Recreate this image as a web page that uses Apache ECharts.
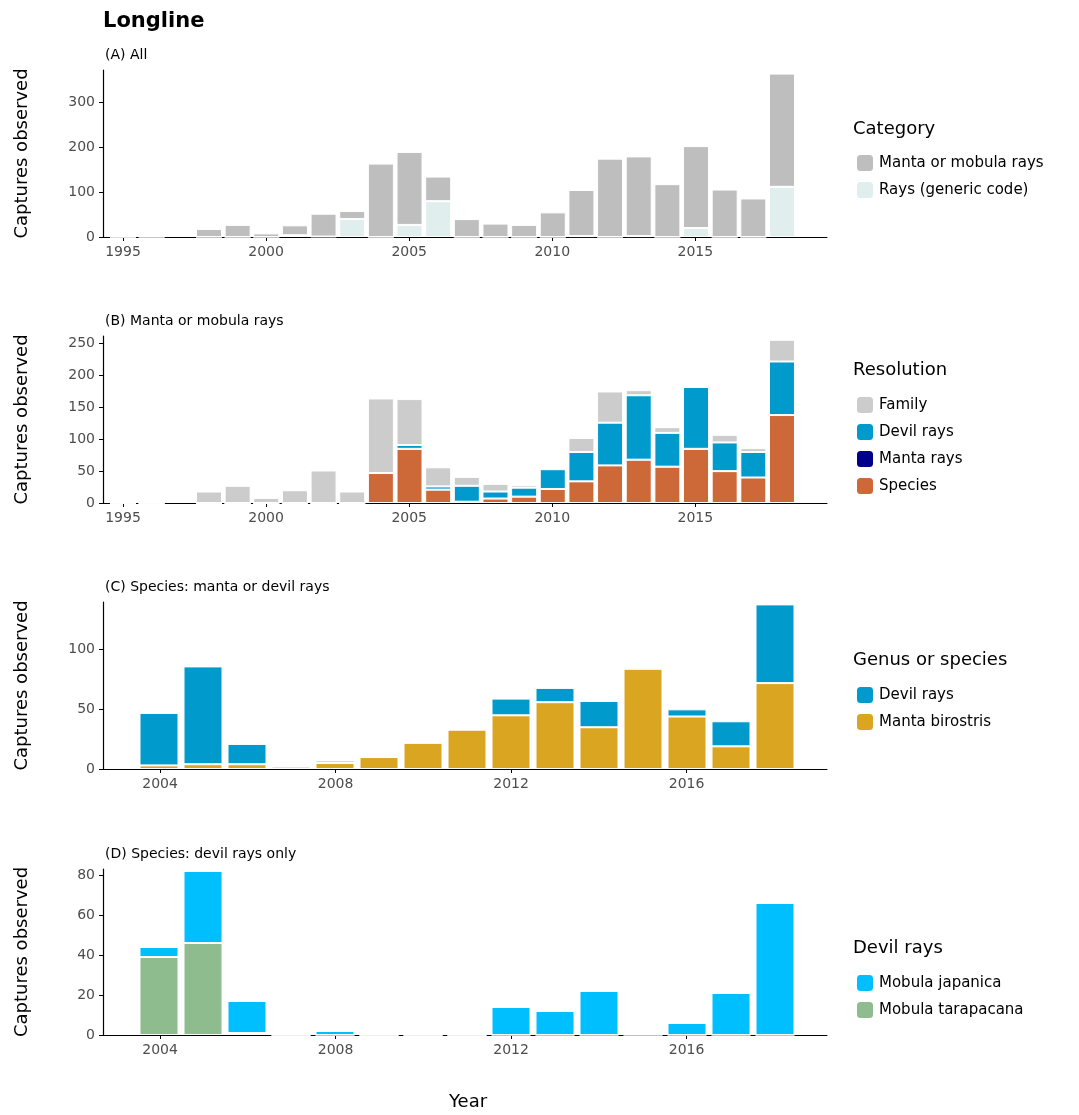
<html>
<head>
<meta charset="utf-8">
<script src="https://cdn.jsdelivr.net/npm/echarts@6/dist/echarts.min.js"></script>
</head>
<body style="margin:0">
<div id="chart" style="width:1079px;height:1115px;"></div>
<script type="text/javascript">
// panel A
var yearsA = [1995, 1996, 1998, 1999, 2000, 2001, 2002, 2003, 2004, 2005, 2006, 2007, 2008, 2009, 2010, 2011, 2012, 2013, 2014, 2015, 2016, 2017, 2018];
var mantaMobulaA = [1, 2, 18, 27, 8, 22, 51, 18, 164, 163, 55, 40, 30, 27, 55, 103, 175, 178, 118, 183, 106, 86, 253];
var raysGenericA = [0, 0, 0, 0, 0, 4, 1, 40, 0, 27, 80, 0, 0, 0, 0, 2, 0, 2, 0, 20, 0, 0, 112];
// panel B
var familyB = [1, 2, 18, 27, 8, 20, 51, 18, 117, 72, 30, 14, 12, 4, 2, 22, 49, 8, 9, 1, 12, 6, 34];
var devilB = [0, 0, 0, 0, 0, 0, 0, 0, 0, 6, 5, 25, 11, 14, 31, 46, 67, 101, 53, 97, 45, 40, 84];
var mantaB = [0, 0, 0, 0, 0, 0, 0, 0, 0, 0, 0, 0, 0, 0, 0, 0, 0, 0, 0, 0, 0, 0, 0];
var speciesB = [0, 0, 0, 0, 0, 0, 0, 0, 47, 85, 21, 2, 7, 10, 22, 34, 59, 68, 57, 85, 50, 40, 138];
// panel C
var yearsC = [2004, 2005, 2006, 2007, 2008, 2009, 2010, 2011, 2012, 2013, 2014, 2015, 2016, 2017, 2018];
var devilC = [44, 82, 17, 0, 2, 0, 0, 0, 14, 12, 22, 1, 6, 21, 66];
var birostrisC = [3, 4, 4, 2, 5, 10, 22, 33, 45, 56, 35, 84, 44, 19, 72];
// panel D
var japanicaD = [5, 36, 16, 0, 2, 0, 0, 0, 14, 12, 22, 1, 6, 21, 66];
var tarapacanaD = [39, 46, 1, 0, 0, 0, 0, 0, 0, 0, 0, 0, 0, 0, 0];
// tick labels
var ticksAB = [1995, 2000, 2005, 2010, 2015];
var ticksCD = [2004, 2008, 2012, 2016];

function span(a, b) {
    var out = [];
    for (var y = a; y <= b; y++) out.push(String(y));
    return out;
}
var catsAB = span(1995, 2018);
var catsCD = span(2004, 2018);

function pairs(xs, ys) {
    return xs.map(function (x, i) { return [String(x), ys[i]]; });
}

var tops = [70, 336, 602, 869];
var hts = [167, 167, 167, 166];
var grids = [];
// visible axis frames
tops.forEach(function (t, i) { grids.push({left: 103, right: 252, top: t, height: hts[i]}); });
// bar grids aligned so category centers sit on the years
tops.forEach(function (t, i) {
    grids.push(i < 2 ? {left: 108.7, right: 282.7, top: t, height: hts[i]}
                     : {left: 137, right: 282, top: t, height: hts[i]});
});

var lbl = {color: '#4d4d4d', fontSize: 14, fontFamily: 'DejaVu Sans'};
var axLine = {show: true, lineStyle: {color: '#000', width: 1.2}};
var ymax = [373, 262, 140, 83];
var yint = [100, 50, 50, 20];

var xAxes = [], yAxes = [];
[[1994.3, 2019.6, ticksAB], [1994.3, 2019.6, ticksAB], [2002.7, 2019.2, ticksCD], [2002.7, 2019.2, ticksCD]]
    .forEach(function (r, i) {
        xAxes.push({type: 'value', gridIndex: i, min: r[0], max: r[1],
            axisLine: axLine,
            axisTick: {show: true, length: 4, customValues: r[2], lineStyle: {color: '#000'}},
            splitLine: {show: false},
            axisLabel: Object.assign({customValues: r[2], formatter: function (v) { return String(v); }}, lbl)});
        yAxes.push({type: 'value', gridIndex: i, min: 0, max: ymax[i], interval: yint[i],
            name: 'Captures observed', nameLocation: 'middle', nameGap: 72, nameRotate: 90,
            nameTextStyle: {fontSize: 18, color: '#000', fontFamily: 'DejaVu Sans'},
            axisLine: axLine, axisTick: {show: true, length: 4, lineStyle: {color: '#000'}},
            splitLine: {show: false}, axisLabel: Object.assign({showMaxLabel: false}, lbl)});
    });
[catsAB, catsAB, catsCD, catsCD].forEach(function (c, i) {
    xAxes.push({type: 'category', gridIndex: 4 + i, data: c, show: false});
    yAxes.push({type: 'value', gridIndex: 4 + i, min: 0, max: ymax[i], show: false, splitLine: {show: false}});
});

function bar(name, idx, data, color, width) {
    return {name: name, type: 'bar', xAxisIndex: 4 + idx, yAxisIndex: 4 + idx, stack: 's' + idx,
        data: data, barWidth: width, itemStyle: {color: color, borderColor: '#fff', borderWidth: 1}};
}
function legend(top, names) {
    return {orient: 'vertical', left: 850, top: top, itemWidth: 18, itemHeight: 18, itemGap: 7,
        data: names, selectedMode: false,
        textStyle: {fontSize: 15, color: '#000', fontFamily: 'DejaVu Sans'}};
}
var ttl = {fontSize: 18, fontWeight: 'normal', color: '#000', fontFamily: 'DejaVu Sans'};
var sub = {fontSize: 14, fontWeight: 'normal', color: '#000', fontFamily: 'DejaVu Sans'};

var option = {
    animation: false,
    title: [
        {text: 'Longline', left: 98, top: 6, textStyle: {fontSize: 21, fontWeight: 'bold', color: '#000', fontFamily: 'DejaVu Sans'}},
        {text: '(A) All', left: 100, top: 43, textStyle: sub},
        {text: '(B) Manta or mobula rays', left: 100, top: 309, textStyle: sub},
        {text: '(C) Species: manta or devil rays', left: 100, top: 575, textStyle: sub},
        {text: '(D) Species: devil rays only', left: 100, top: 842, textStyle: sub},
        {text: 'Category', left: 848, top: 115, textStyle: ttl},
        {text: 'Resolution', left: 848, top: 356, textStyle: ttl},
        {text: 'Genus or species', left: 848, top: 646, textStyle: ttl},
        {text: 'Devil rays', left: 848, top: 934, textStyle: ttl},
        {text: 'Year', left: 444, top: 1088, textStyle: ttl}
    ],
    legend: [
        legend(148, ['Manta or mobula rays', 'Rays (generic code)']),
        legend(390, ['Family', 'Devil rays', 'Manta rays', 'Species']),
        legend(680, ['Devil rays', 'Manta birostris']),
        legend(968, ['Mobula japanica', 'Mobula tarapacana'])
    ],
    grid: grids,
    xAxis: xAxes,
    yAxis: yAxes,
    series: [
        bar('Rays (generic code)', 0, pairs(yearsA, raysGenericA), '#e0eeee', 26),
        bar('Manta or mobula rays', 0, pairs(yearsA, mantaMobulaA), '#bebebe', 26),
        bar('Species', 1, pairs(yearsA, speciesB), '#cd6839', 26),
        bar('Manta rays', 1, pairs(yearsA, mantaB), '#00008b', 26),
        bar('Devil rays', 1, pairs(yearsA, devilB), '#009acd', 26),
        bar('Family', 1, pairs(yearsA, familyB), '#cccccc', 26),
        bar('Manta birostris', 2, pairs(yearsC, birostrisC), '#daa520', 39),
        bar('Devil rays', 2, pairs(yearsC, devilC), '#009acd', 39),
        bar('Mobula tarapacana', 3, pairs(yearsC, tarapacanaD), '#8fbc8f', 39),
        bar('Mobula japanica', 3, pairs(yearsC, japanicaD), '#00bfff', 39)
    ]
};
var myChart = echarts.init(document.getElementById('chart'));
myChart.setOption(option);
</script>
</body>
</html>
